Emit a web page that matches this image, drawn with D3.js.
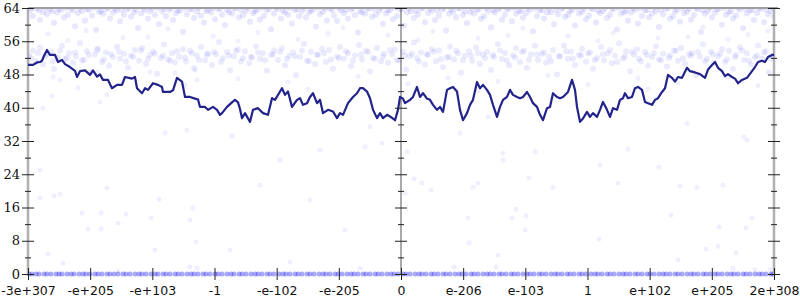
<!DOCTYPE html>
<html>
<head>
<meta charset="utf-8">
<script src="https://cdn.jsdelivr.net/npm/d3@7"></script>
<style>
  body { margin: 0; background: #fff; }
  svg { display: block; }
</style>
</head>
<body>
<div id="chart"></div>
<script>
// ticks //
const xTickLabels = ['-3e+307', '-e+205', '-e+103', '-1', '-e-102', '-e-205', '0',
  'e-206', 'e-103', '1', 'e+102', 'e+205', '2e+308']
const yTicks = [0, 8, 16, 24, 32, 40, 48, 56, 64]
const yMinorTicks = [4, 12, 20, 28, 36, 44, 52, 60]

// x is an ordinal position along the float line (0 .. 746), y is bits of error //
const averageLine = [
  [0,50.3],[5,50.3],[9,50.9],[12,51],[14,51.3],[16,52.5],[19,53.9],[22,52.7],[27,52.7],[30,51],
  [34,51.5],[37,50.5],[42,49.8],[47,48.9],[49,47.4],[52,48.8],[57,49],[62,47.9],[65,49],[69,47.5],
  [72,48],[75,46.7],[80,46.7],[84,44.7],[89,45.5],[94,45.5],[97,47.4],[104,47],[107,47.4],[109,44.7],
  [114,43.5],[117,44.7],[120,44.3],[125,45.9],[130,45.5],[134,45],[135,43.8],[142,43.8],[145,44.2],[149,47.2],
  [154,46.3],[157,42.6],[162,42.6],[167,42.2],[170,42],[172,40.2],[177,40.2],[180,39.5],[185,40.2],[189,39.5],
  [192,38.3],[194,38.7],[199,40.2],[204,41.3],[207,41.9],[210,41.3],[212,39.7],[214,37.5],[217,38.7],[222,36.6],
  [225,39.5],[230,39.9],[235,38.7],[240,38.3],[244,42.3],[247,41.9],[254,44.7],[257,43.1],[260,43.9],[264,40.2],
  [269,41.9],[272,42.3],[275,40.7],[279,41.1],[282,42.6],[285,43.5],[289,41.1],[292,41.9],[295,38.7],[300,39.5],
  [305,39.1],[309,37.5],[312,38.7],[315,38.3],[320,41.1],[325,42.6],[329,43.5],[332,44.7],[335,44.7],[339,43.9],
  [342,42.3],[345,39.5],[349,37.5],[352,38.7],[355,37.5],[359,38.3],[362,37.9],[367,37],[370,39.5],[372,42.6],
  [375,42.2],[377,41.1],[382,41.9],[385,42.6],[389,45],[392,42.6],[395,43.5],[399,42.2],[402,41.9],[405,40.7],
  [409,39.5],[412,40.2],[415,39],[419,44.3],[422,44.7],[425,45],[429,43.9],[432,39.5],[435,37],[439,38.7],
  [442,40.7],[445,41.9],[449,46.2],[452,44.7],[455,45.5],[459,44.3],[462,43.1],[465,40.7],[469,37.8],[472,40.2],
  [475,41.9],[479,42.6],[482,44.3],[485,43.1],[489,42.6],[492,42.3],[495,42.6],[499,43.8],[502,42.6],[505,41.1],
  [509,40.2],[512,38.3],[515,37],[519,39.9],[522,40.2],[525,43.5],[529,42.6],[532,42.3],[535,42.6],[540,43.8],
  [544,46.7],[547,44.3],[549,40.2],[552,36.6],[555,37.4],[559,39],[562,37.8],[565,38.7],[569,37.8],[572,39.5],
  [575,41.4],[579,39.5],[582,37.8],[585,39.9],[589,39.5],[592,41.9],[595,42.3],[597,43.5],[600,42.3],[604,42.6],
  [607,44.7],[610,45],[614,44.3],[617,41.4],[620,41.1],[624,40.7],[627,41.9],[630,42.3],[634,43.8],[637,44.7],
  [640,47.9],[644,47.2],[647,46.3],[650,47.4],[654,47.2],[659,49.6],[662,48.8],[667,48.5],[672,48.1],[677,47.2],
  [680,49.2],[684,50.3],[687,51],[690,49.6],[694,48.8],[697,47.6],[700,48.1],[704,47.4],[707,47],[710,45.9],
  [714,46.7],[719,47.2],[724,48.8],[727,49.8],[730,51],[734,51.3],[737,51],[740,52.2],[744,52.7],[746,52.7]
]

const topBand = [
  [2,63.4],[5,62.1],[9,63.8],[12,61.2],[15,63.0],[19,62.5],[22,63.7],[26,60.4],[29,62.9],[33,63.5],[36,61.7],[40,62.4],
  [43,63.9],[47,59.6],[50,62.8],[54,63.3],[57,61.0],[61,63.6],[64,62.2],[68,58.7],[71,63.1],[75,62.6],[78,63.8],[82,61.5],
  [85,62.9],[89,63.4],[92,60.8],[96,62.3],[99,63.7],[103,61.9],[106,63.0],[110,59.2],[113,62.7],[117,63.5],[120,61.4],[124,63.9],
  [127,62.4],[131,60.1],[134,63.2],[138,62.0],[141,63.6],[145,61.1],[148,62.8],[152,63.4],[155,58.3],[159,62.5],[162,63.8],[166,61.6],
  [169,63.1],[173,62.2],[176,60.5],[180,63.5],[183,62.9],[187,61.3],[190,63.7],[194,62.4],[197,59.9],[201,63.0],[204,62.6],[208,63.9],
  [211,61.8],[215,62.3],[218,63.3],[222,60.7],[225,62.8],[229,63.6],[232,61.2],[236,62.1],[239,63.4],[243,58.9],[246,62.7],[250,63.8],
  [253,61.5],[257,63.0],[260,62.4],[264,60.3],[267,63.5],[271,62.0],[274,63.2],[278,61.7],[281,62.9],[285,63.7],[288,59.5],[292,62.5],
  [295,63.1],[299,61.0],[302,63.9],[306,62.2],[309,60.9],[313,63.4],[316,62.8],[320,61.4],[323,63.6],[327,62.3],[330,58.1],[334,63.0],
  [337,62.6],[341,63.8],[344,61.9],[348,62.4],[351,63.3],[355,60.2],[358,62.7],[362,63.5],[365,61.3],[369,62.1],[372,63.7],[376,59.7],
  [379,62.9],[383,63.2],[386,61.6],[390,62.5],[393,63.9],[397,60.6],[400,62.8],[404,63.4],[407,61.1],[411,62.2],[414,63.6],[418,58.6],
  [421,62.6],[425,63.1],[428,61.8],[432,63.8],[435,62.3],[439,60.4],[442,63.0],[446,62.7],[449,63.5],[453,61.4],[456,62.0],[460,63.3],
  [463,59.3],[467,62.9],[470,63.7],[474,61.2],[477,62.4],[481,63.9],[484,60.8],[488,62.6],[491,63.2],[495,61.7],[498,62.8],[502,63.6],
  [505,58.4],[509,62.1],[512,63.4],[516,61.5],[519,62.9],[523,63.0],[526,60.1],[530,62.5],[533,63.8],[537,61.9],[540,62.3],[544,63.5],
  [547,59.8],[551,62.7],[554,63.1],[558,61.3],[561,62.2],[565,63.7],[568,60.5],[572,62.8],[575,63.3],[579,61.6],[582,62.4],[586,63.9],
  [589,58.8],[593,62.6],[596,63.0],[600,61.0],[603,62.9],[607,63.6],[610,60.3],[614,62.1],[617,63.4],[621,61.8],[624,62.7],[628,63.2],
  [631,59.4],[635,62.5],[638,63.8],[642,61.4],[645,62.0],[649,63.5],[652,60.7],[656,62.8],[659,63.1],[663,61.2],[666,62.3],[670,63.7],
  [673,58.2],[677,62.6],[680,63.3],[684,61.7],[687,62.9],[691,63.9],[694,60.0],[698,62.4],[701,63.0],[705,61.5],[708,62.2],[712,63.6],
  [715,59.1],[719,62.7],[722,63.4],[726,61.1],[729,62.8],[733,63.8],[736,60.6],[740,62.5],[743,63.2],[746,61.9],
  [4,64],[11,63.5],[18,64],[24,63.2],[31,63.8],[38,64],[45,63.4],[52,64],[59,63.7],[66,64],[73,63.3],[80,64],
  [87,63.9],[94,63.5],[101,64],[108,63.6],[115,64],[122,63.2],[129,64],[136,63.8],[143,64],[150,63.4],[157,64],[164,63.7],
  [171,64],[178,63.3],[185,64],[192,63.9],[199,63.5],[206,64],[213,63.6],[220,64],[227,63.2],[234,64],[241,63.8],[248,64],
  [255,63.4],[262,64],[269,63.7],[276,64],[283,63.3],[290,64],[297,63.9],[304,63.5],[311,64],[318,63.6],[325,64],[332,63.2],
  [339,64],[346,63.8],[353,64],[360,63.4],[367,64],[374,63.7],[381,64],[388,63.3],[395,64],[402,63.9],[409,63.5],[416,64],
  [423,63.6],[430,64],[437,63.2],[444,64],[451,63.8],[458,64],[465,63.4],[472,64],[479,63.7],[486,64],[493,63.3],[500,64],
  [507,63.9],[514,63.5],[521,64],[528,63.6],[535,64],[542,63.2],[549,64],[556,63.8],[563,64],[570,63.4],[577,64],[584,63.7],
  [591,64],[598,63.3],[605,64],[612,63.9],[619,63.5],[626,64],[633,63.6],[640,64],[647,63.2],[654,64],[661,63.8],[668,64],
  [675,63.4],[682,64],[689,63.7],[696,64],[703,63.3],[710,64],[717,63.9],[724,63.5],[731,64],[738,63.6],[745,64]
]

const midBand = [
  [1,52.6],[5,53.8],[8,51.2],[12,54.5],[15,50.4],[19,52.9],[23,53.4],[26,49.3],[30,52.1],[34,54.9],[37,51.7],[41,53.1],
  [45,50.8],[48,52.4],[52,55.6],[56,51.5],[59,53.6],[63,48.6],[67,52.8],[70,54.2],[74,51.0],[78,53.3],[81,50.1],[85,52.2],
  [89,54.7],[92,51.8],[96,53.0],[100,49.7],[103,52.5],[107,53.9],[111,51.3],[114,54.4],[118,50.6],[122,52.7],[125,53.5],[129,48.2],
  [133,52.0],[136,55.2],[140,51.6],[144,53.2],[147,50.9],[151,52.3],[155,54.1],[158,51.1],[162,53.7],[166,49.5],[169,52.6],[173,54.6],
  [177,51.4],[180,53.0],[184,50.3],[188,52.9],[191,55.8],[195,51.9],[199,53.4],[202,49.0],[206,52.4],[210,54.0],[213,51.2],[217,53.6],
  [221,50.7],[224,52.1],[228,54.8],[232,51.7],[235,53.1],[239,48.9],[243,52.7],[246,53.8],[250,51.5],[254,54.3],[257,50.2],[261,52.5],
  [265,53.3],[268,47.8],[272,52.2],[276,55.4],[279,51.3],[283,53.5],[287,50.5],[290,52.8],[294,54.2],[298,51.0],[301,53.9],[305,49.4],
  [309,52.3],[312,54.6],[316,51.8],[320,53.2],[323,50.0],[327,52.6],[331,55.1],[334,51.6],[338,53.7],[342,48.7],[345,52.0],[349,54.4],
  [353,51.1],[356,53.0],[360,50.8],[364,52.9],[367,54.0],[371,51.4],[375,53.5],[378,49.2],[382,52.4],[386,55.7],[389,51.9],[393,53.3],
  [397,50.4],[400,52.7],[404,54.1],[408,51.2],[411,53.8],[415,49.8],[419,52.1],[422,54.7],[426,51.6],[430,53.1],[433,48.4],[437,52.5],
  [441,53.6],[444,51.3],[448,54.5],[452,50.6],[455,52.8],[459,53.4],[463,49.1],[466,52.2],[470,55.3],[474,51.7],[477,53.2],[481,50.2],
  [485,52.6],[488,54.3],[492,51.0],[496,53.7],[499,49.6],[503,52.9],[507,54.9],[510,51.5],[514,53.0],[518,50.9],[521,52.3],[525,53.9],
  [529,48.0],[532,52.4],[536,55.0],[540,51.8],[543,53.5],[547,50.3],[551,52.7],[554,54.2],[558,51.1],[562,53.3],[565,49.4],[569,52.0],
  [573,54.6],[576,51.4],[580,53.1],[584,50.7],[587,52.5],[591,55.5],[595,51.9],[598,53.6],[602,48.8],[606,52.8],[609,54.0],[613,51.2],
  [617,53.4],[620,50.1],[624,52.2],[628,54.8],[631,51.6],[635,53.0],[639,49.9],[642,52.6],[646,53.8],[650,51.3],[653,54.4],[657,50.5],
  [661,52.9],[664,53.2],[668,47.9],[672,52.3],[675,55.2],[679,51.7],[683,53.5],[686,50.8],[690,52.4],[694,54.1],[697,51.0],[701,53.7],
  [705,49.3],[708,52.7],[712,54.5],[716,51.5],[719,53.1],[723,50.4],[727,52.1],[730,55.0],[734,51.8],[738,53.6],[741,48.5],[745,52.5],
  [3,51.9],[10,53.2],[17,52.4],[25,51.1],[32,53.7],[39,52.0],[47,53.3],[54,51.4],[61,52.7],[69,53.9],[76,51.6],[83,52.9],
  [91,53.5],[98,51.2],[105,52.3],[113,53.8],[120,51.8],[127,53.0],[135,52.5],[142,51.3],[149,53.6],[157,52.1],[164,53.1],[171,51.5],
  [179,52.8],[186,53.4],[193,51.0],[201,52.6],[208,53.7],[215,51.9],[223,52.2],[230,53.3],[237,51.4],[245,52.9],[252,53.5],[259,51.7],
  [267,52.4],[274,53.8],[281,51.2],[289,52.7],[296,53.1],[303,51.6],[311,52.0],[318,53.6],[325,51.3],[333,52.8],[340,53.4],[347,51.8],
  [355,52.3],[362,53.9],[369,51.5],[377,52.6],[384,53.0],[391,51.1],[399,52.9],[406,53.5],[413,51.7],[421,52.2],[428,53.7],[435,51.4],
  [443,52.5],[450,53.2],[457,51.9],[465,52.7],[472,53.8],[479,51.3],[487,52.1],[494,53.4],[501,51.6],[509,52.8],[516,53.3],[523,51.2],
  [531,52.4],[538,53.6],[545,51.8],[553,52.6],[560,53.1],[567,51.5],[575,52.9],[582,53.9],[589,51.0],[597,52.3],[604,53.5],[611,51.7],
  [619,52.7],[626,53.2],[633,51.4],[641,52.0],[648,53.7],[655,51.9],[663,52.5],[670,53.4],[677,51.1],[685,52.8],[692,53.0],[699,51.6],
  [707,52.2],[714,53.8],[721,51.3],[729,52.6],[736,53.3],[743,51.8]
]

// looser points between and under the bands //
const strayPoints = [
  [20,57.8],[58,58.6],[95,56.9],[140,59.0],[185,57.2],[230,58.1],[270,56.5],[315,59.3],[360,57.5],[405,58.4],[450,56.7],
  [495,59.1],[540,57.3],[585,58.0],[630,56.8],[675,59.4],[720,57.6],[740,58.5],[40,56.2],[120,57.0],[210,56.0],[300,57.9],
  [390,56.3],[480,57.4],[570,56.1],[660,57.1],[700,56.4],
  [25,47.4],[32,46.7],[50,44.8],[69,48.6],[79,43.1],[72,41.4],[122,48.6],[147,48.4],[157,45.5],[169,46.7],[167,49.1],
  [210,47.0],[260,46.2],[330,47.5],[380,45.8],[420,47.2],[470,46.4],[520,47.8],[560,45.6],[610,47.1],[650,46.0],[700,47.4],
  [730,45.3],[280,44.5],[450,44.1],[620,44.6],
  [15,39.9],[24,42.8],[137,33.9],[159,34.6],[204,33.2],[337,30.6],[354,31.5],[342,35.4],[292,29.8],[432,33.9],[460,37.8],
  [659,36.3],[716,33.0],[719,32.2],[600,30.1],
  [12,25.0],[12,18.3],[26,18.8],[32,19.2],[20,4.8],[35,2.6],[54,14.7],[60,10.8],[73,14.7],[73,10.8],[79,20.7],[90,12.3],
  [98,14.4],[90,0.7],[123,13.5],[127,5.8],[131,18.0],[162,13.0],[165,15.9],[168,7.7],[162,1.7],[169,1.4],
  [232,21.4],[282,17.8],[317,10.6],[202,5.8],[262,2.9],[332,1.4],[252,27.4],
  [379,29.4],[386,22.9],[394,21.9],[403,20.2],[377,19.5],[445,20.9],[450,21.9],[475,29.1],[475,27.4],[507,29.4],[501,23.1],
  [525,20.9],[440,13.5],[441,7.5],[470,4.6],[488,15.6],[484,13.5],[498,14.0],[497,10.6],[426,1.7],[468,1.7],[572,26.2],[571,8.4],
  [631,25.7],[590,21.9],[652,21.2],[669,20.9],[695,21.4],[643,14.2],[691,11.3],[718,11.1],[724,13.5],[678,6.0],[690,6.7],
  [708,5.1],[650,3.4],[705,1.4],[727,1.0],[742,1.0]
]

// exact results, all at zero bits of error //
const exactX = [
  1,4,8,11,16,19,23,28,31,34,39,43,46,51,55,58,62,67,70,74,79,82,86,90,95,98,102,107,111,114,118,123,127,130,135,138,
  142,147,150,154,159,163,166,170,175,178,182,187,190,194,199,203,206,211,214,218,223,227,230,234,239,242,246,251,255,258,
  262,267,270,274,279,282,286,291,295,298,302,307,310,314,319,323,326,330,335,338,342,347,350,354,359,363,366,370,375,378,
  382,387,391,394,398,403,406,410,415,418,422,427,431,434,438,443,446,450,455,459,462,466,471,474,478,483,486,490,495,499,
  502,506,511,514,518,523,527,530,534,539,542,546,551,554,558,563,567,570,574,579,582,586,591,595,598,602,607,610,614,619,
  622,626,631,635,638,642,647,650,654,659,663,666,670,675,678,682,687,690,694,699,703,706,710,715,718,722,727,731,734,738,743,745
]

// svg //
const width = 800
const height = 300
const plotLeft = 28
const plotRight = 774
const plotTop = 8
const plotBottom = 274

const x = d3.scaleLinear().domain([0, 746]).range([plotLeft, plotRight])
const y = d3.scaleLinear().domain([0, 64]).range([plotBottom, plotTop])
const xTickValues = xTickLabels.map((d, i) => i * 746 / (xTickLabels.length - 1))

const svg = d3.select('#chart').append('svg')
  .attr('width', width)
  .attr('height', height)

svg.append('defs').append('clipPath')
  .attr('id', 'plot')
  .append('rect')
  .attr('x', plotLeft)
  .attr('y', plotTop)
  .attr('width', plotRight - plotLeft)
  .attr('height', plotBottom - plotTop + 4)

const marks = svg.append('g').attr('clip-path', 'url(#plot)')

const drawPoints = (data, radius, opacity) => {
  marks.append('g')
    .selectAll('circle')
    .data(data)
    .enter()
    .append('circle')
    .attr('cx', d => x(d[0]))
    .attr('cy', d => y(d[1]))
    .attr('r', radius)
    .attr('fill', '#2020f0')
    .attr('fill-opacity', opacity)
}

drawPoints(topBand, 3, 0.11)
drawPoints(midBand, 3, 0.09)
drawPoints(strayPoints, 2.5, 0.07)
drawPoints(exactX.map(d => [d, 0]), 2.5, 0.38)

// frame //
svg.append('line')
  .attr('x1', plotLeft).attr('x2', plotRight + 4)
  .attr('y1', plotTop).attr('y2', plotTop)
  .attr('stroke', '#a0a0a0').attr('stroke-width', 2)
svg.selectAll('.frame')
  .data([plotLeft, plotRight])
  .enter()
  .append('line')
  .attr('x1', d => d).attr('x2', d => d)
  .attr('y1', plotTop).attr('y2', plotBottom + 2)
  .attr('stroke', '#b0b0b0').attr('stroke-width', 2.5)
svg.append('line')
  .attr('x1', x(373)).attr('x2', x(373))
  .attr('y1', plotTop).attr('y2', plotBottom)
  .attr('stroke', '#555').attr('stroke-width', 1)

// average line //
svg.append('path')
  .datum(averageLine)
  .attr('fill', 'none')
  .attr('stroke', '#23238c')
  .attr('stroke-width', 2.2)
  .attr('stroke-linejoin', 'round')
  .attr('d', d3.line().x(d => x(d[0])).y(d => y(d[1])))

// y axes: left with labels, middle and right without //
const yAxis = (xPos, withLabels) => {
  const major = svg.append('g')
    .attr('transform', `translate(${xPos + 6}, 0)`)
    .call(d3.axisLeft(y).tickValues(yTicks).tickSize(12).tickPadding(2)
      .tickFormat(withLabels ? d3.format('d') : ''))
  const minor = svg.append('g')
    .attr('transform', `translate(${xPos + 3}, 0)`)
    .call(d3.axisLeft(y).tickValues(yMinorTicks).tickSize(6).tickFormat(''))
  ;[major, minor].forEach(g => {
    g.select('.domain').remove()
    g.selectAll('line').attr('stroke', '#222')
  })
  major.selectAll('text')
    .attr('fill', '#111')
    .style('font-family', '"DejaVu Serif", serif')
    .style('font-size', '13px')
}
yAxis(plotLeft, true)
yAxis(x(373), false)
yAxis(plotRight, false)

// x axis //
const xAxis = svg.append('g')
  .attr('transform', `translate(0, ${plotBottom - 6})`)
  .call(d3.axisBottom(x).tickValues(xTickValues).tickSize(12).tickPadding(6)
    .tickFormat((d, i) => xTickLabels[i]))
xAxis.select('.domain').remove()
xAxis.selectAll('line').attr('stroke', '#222')
xAxis.selectAll('text')
  .attr('fill', '#111')
  .style('font-family', '"DejaVu Sans", sans-serif')
  .style('font-size', '12.5px')
</script>
</body>
</html>
